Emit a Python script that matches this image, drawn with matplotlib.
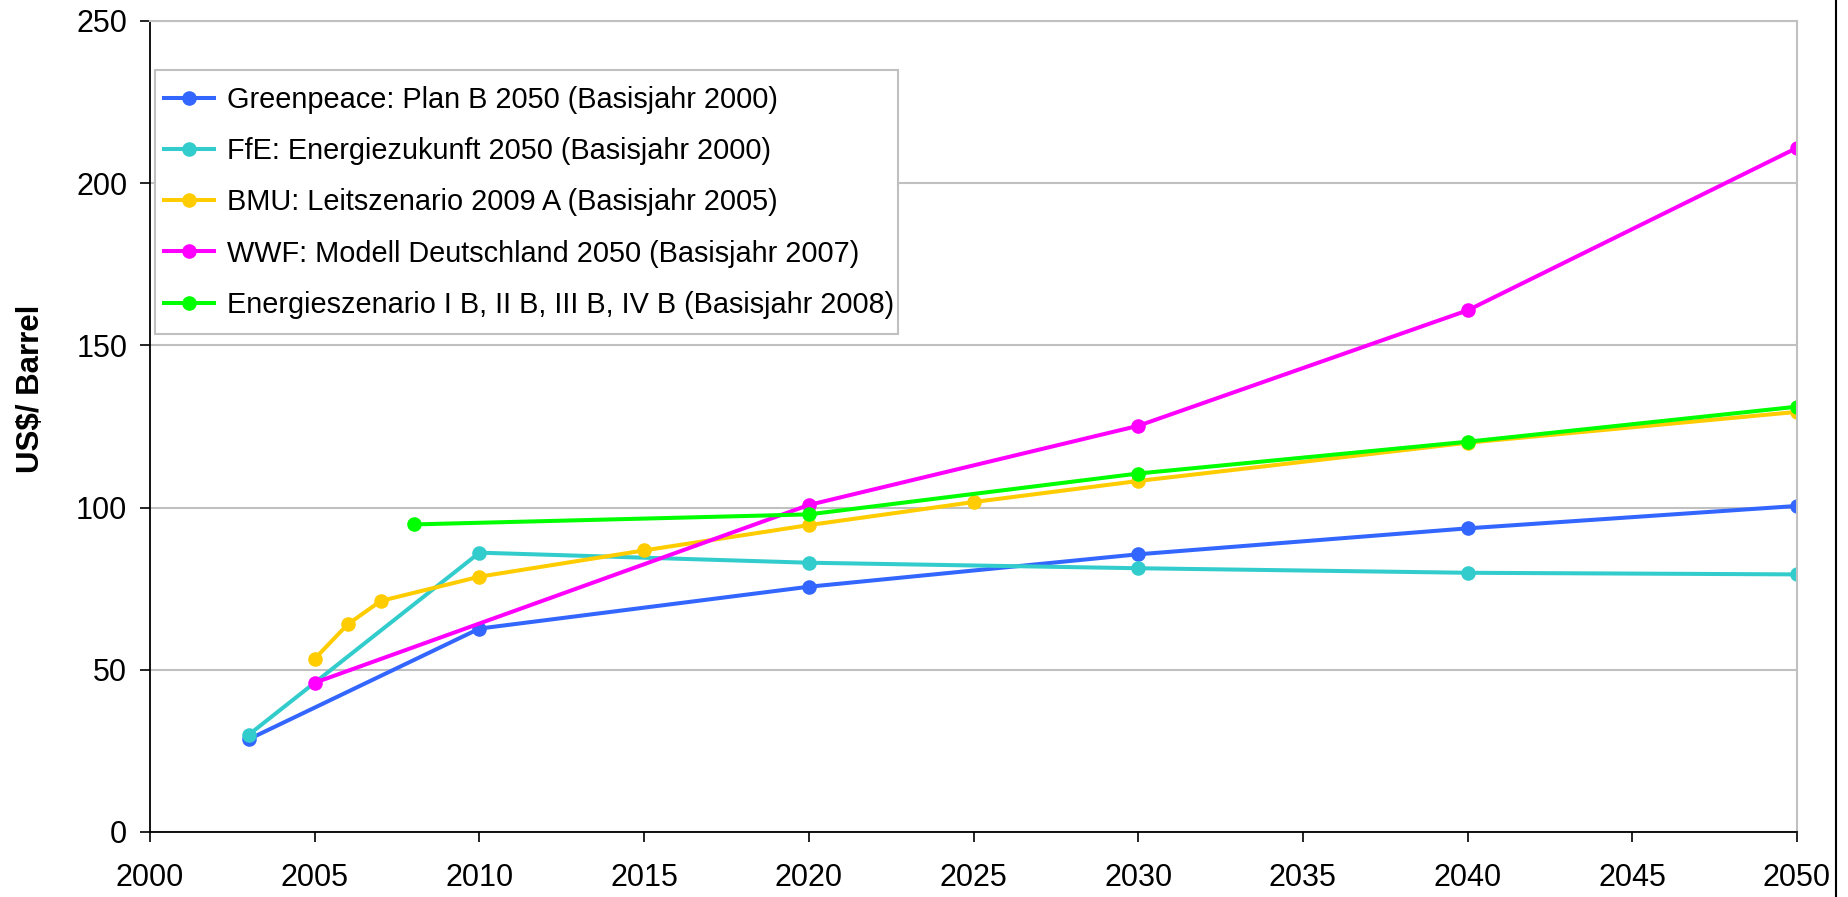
import matplotlib.pyplot as plt
from matplotlib.lines import Line2D
from matplotlib.patches import Rectangle

plt.rcParams['font.family'] = ['Liberation Sans', 'DejaVu Sans']

# Greenpeace: Plan B 2050
gp_years = [2003, 2010, 2020, 2030, 2040, 2050]
gp_vals = [28.6, 62.7, 75.6, 85.6, 93.6, 100.5]

# FfE: Energiezukunft 2050
ffe_years = [2003, 2010, 2020, 2030, 2040, 2050]
ffe_vals = [30.0, 86.1, 83.0, 81.3, 79.9, 79.4]

# BMU: Leitszenario 2009 A
bmu_years = [2005, 2006, 2007, 2010, 2015, 2020, 2025, 2030, 2040, 2050]
bmu_vals = [53.4, 64.0, 71.2, 78.7, 86.8, 94.6, 101.7, 108.2, 120.0, 129.5]

# WWF: Modell Deutschland 2050
wwf_years = [2005, 2020, 2030, 2040, 2050]
wwf_vals = [46.0, 100.8, 125.2, 160.8, 210.9]

# Energieszenario
ez_years = [2008, 2020, 2030, 2040, 2050]
ez_vals = [94.8, 97.9, 110.5, 120.3, 131.1]

labels = [
    'Greenpeace: Plan B 2050 (Basisjahr 2000)',
    'FfE: Energiezukunft 2050 (Basisjahr 2000)',
    'BMU: Leitszenario 2009 A (Basisjahr 2005)',
    'WWF: Modell Deutschland 2050 (Basisjahr 2007)',
    'Energieszenario I B, II B, III B, IV B (Basisjahr 2008)',
]
colors = ['#3366FF', '#33CCCC', '#FFCC00', '#FF00FF', '#00FF00']

series = [(gp_years, gp_vals), (ffe_years, ffe_vals), (bmu_years, bmu_vals),
          (wwf_years, wwf_vals), (ez_years, ez_vals)]

fig = plt.figure(figsize=(18.48, 8.97), dpi=100)
ax = fig.add_axes([0.0812, 0.0725, 0.9724 - 0.0812, 0.9766 - 0.0725])

for (xs, ys), lab, c in zip(series, labels, colors):
    ax.plot(xs, ys, color=c, lw=2.9, marker='o', markersize=10.5,
            markeredgewidth=0, label=lab)

ax.set_xlim(2000, 2050)
ax.set_ylim(0, 250)
ax.set_xticks(range(2000, 2051, 5))
ax.set_yticks(range(0, 251, 50))
ax.yaxis.grid(True, color='#c0c0c0', lw=1.5)
ax.set_axisbelow(True)

for s in ['top', 'right']:
    ax.spines[s].set_color('#c0c0c0')
    ax.spines[s].set_linewidth(1.5)
for s in ['left', 'bottom']:
    ax.spines[s].set_color('black')
    ax.spines[s].set_linewidth(1.3)

ax.tick_params(axis='both', direction='out', length=7.5, width=1.2,
               labelsize=22, colors='black')
ax.tick_params(axis='x', pad=15)
ax.tick_params(axis='y', pad=9)

ax.set_ylabel('US$/ Barrel', fontsize=22.5, fontweight='bold')
ax.yaxis.set_label_coords(-0.063, 0.547)

# legend box drawn separately (tight left/right, roomy top/bottom)
ax.add_patch(Rectangle((0.003, 0.614), 0.451, 0.3255, transform=ax.transAxes,
                       facecolor='white', edgecolor='#c0c0c0', lw=1.5,
                       zorder=4))
leg = ax.legend(loc='upper left', bbox_to_anchor=(0.004, 0.9285),
                borderaxespad=0, fontsize=20.8, frameon=False,
                handlelength=1.75, handletextpad=0.45, labelspacing=0.8,
                borderpad=0.25)
leg.set_zorder(5)

# right border of the chart area
fig.add_artist(Line2D([0.9935, 0.9935], [0, 1], color='black', lw=1.5,
                      transform=fig.transFigure))

fig.savefig('out.png', dpi=100)
